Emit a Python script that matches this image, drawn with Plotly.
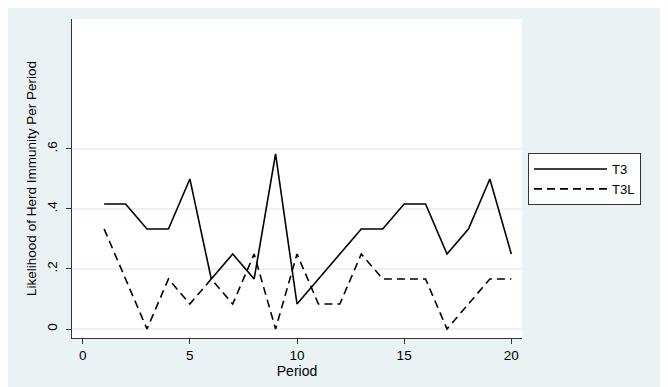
import plotly.graph_objects as go

periods = list(range(1, 21))
t3 = [0.4167, 0.4167, 0.3333, 0.3333, 0.5, 0.1667, 0.25, 0.1667, 0.5833, 0.0833,
      0.1667, 0.25, 0.3333, 0.3333, 0.4167, 0.4167, 0.25, 0.3333, 0.5, 0.25]
t3l = [0.3333, 0.1667, 0.0, 0.1667, 0.0833, 0.1667, 0.0833, 0.25, 0.0, 0.25,
       0.0833, 0.0833, 0.25, 0.1667, 0.1667, 0.1667, 0.0, 0.0833, 0.1667, 0.1667]
x_ticks = [0, 5, 10, 15, 20]
y_ticks = [0, 0.2, 0.4, 0.6]
y_ticktext = ["0", ".2", ".4", ".6"]

BG = "#eaf2f3"
FONT = "Liberation Sans, Arial, sans-serif"

fig = go.Figure()
fig.add_trace(go.Scatter(x=periods, y=t3, mode="lines", name="T3",
                         line=dict(color="black", width=1.6)))
fig.add_trace(go.Scatter(x=periods, y=t3l, mode="lines", name="T3L",
                         line=dict(color="black", width=1.6, dash="8px,5px")))

OFF = 8  # default page body margin
W, H = 668 - OFF, 387 - OFF
# plot area in window pixels
L, R, T, B = 72 - OFF, 522 - OFF, 19 - OFF, 338 - OFF
pw, ph = R - L, B - T


def wx(px):
    return (px - OFF - L) / pw


def wy(py):
    return (B - (py - OFF)) / ph


fig.update_layout(
    width=W, height=H,
    margin=dict(l=L, r=W - R, t=T, b=H - B, pad=0),
    paper_bgcolor=BG,
    plot_bgcolor="white",
    font=dict(family=FONT, size=13, color="black"),
    xaxis=dict(
        range=[-0.5, 20.5], tickvals=x_ticks, ticks="outside", ticklen=5,
        tickcolor="#333", showline=True, linecolor="#333", linewidth=1,
        showgrid=False, zeroline=False, tickfont=dict(size=13.5), automargin=False,
        title=dict(text="Period", font=dict(size=14), standoff=0),
    ),
    yaxis=dict(
        range=[-0.03, 1.033], tickvals=y_ticks, ticktext=y_ticktext,
        tickangle=-90, ticks="outside", ticklen=5, tickcolor="#333",
        showline=True, linecolor="#333", linewidth=1, automargin=False,
        showgrid=True, gridcolor=BG, gridwidth=1.5, zeroline=False,
        tickfont=dict(size=13.5), ticklabelstandoff=4,
        title=dict(text="Likelihood of Herd Immunity Per Period", font=dict(size=13.5), standoff=4),
    ),
    legend=dict(
        x=wx(528), y=wy(153), xanchor="left", yanchor="top",
        bgcolor="white", bordercolor="#333", borderwidth=1,
        font=dict(size=13), itemwidth=73, tracegroupgap=2,
    ),
    showlegend=True,
)

fig.write_html("out.html")
